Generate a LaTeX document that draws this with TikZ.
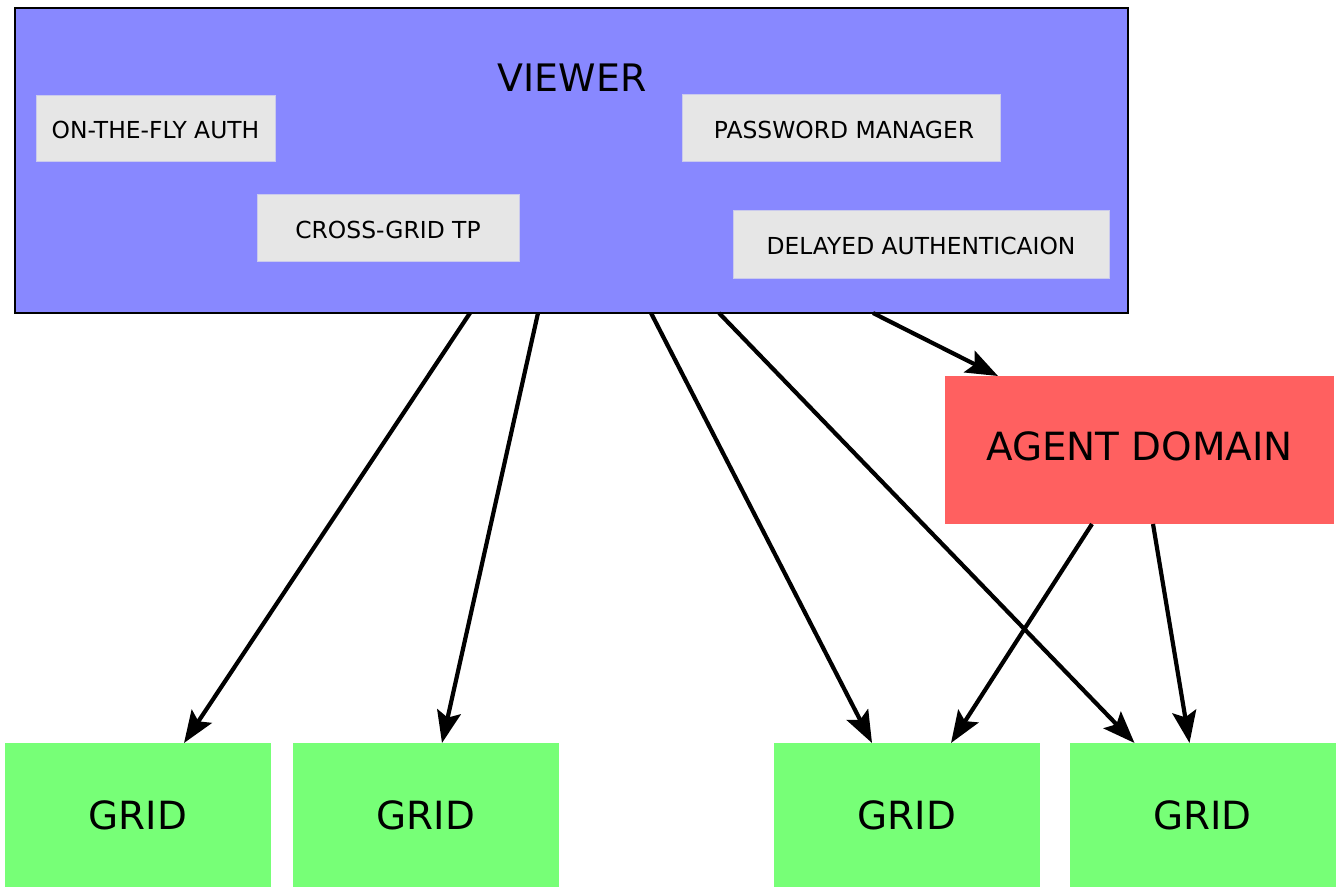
\documentclass[tikz,border=0pt]{standalone}
\usepackage{fontspec}
\setmainfont{DejaVu Sans}
\usetikzlibrary{arrows.meta}

\definecolor{viewerblue}{HTML}{8888FF}
\definecolor{featuregray}{HTML}{E6E6E6}
\definecolor{agentred}{HTML}{FF6060}
\definecolor{gridgreen}{HTML}{77FF77}

\tikzstyle{panel} = [rectangle,draw=black,line width=1.5bp,fill=viewerblue,inner sep=0pt,outer sep=0pt]
\tikzstyle{feature} = [rectangle,draw=featuregray!70!viewerblue,line width=0.8bp,fill=featuregray,inner sep=0pt,outer sep=0pt,font=\fontsize{23.5}{27}\selectfont]
\tikzstyle{agentbox} = [rectangle,fill=agentred,inner sep=0pt,outer sep=0pt,minimum width=389bp,minimum height=148bp,font=\fontsize{39}{45}\selectfont]
\tikzstyle{gridbox} = [rectangle,fill=gridgreen,inner sep=0pt,outer sep=0pt,minimum width=266bp,minimum height=144bp,font=\fontsize{39}{45}\selectfont]
\tikzstyle{link} = [-{Stealth[length=32bp,width=24bp,inset=6bp]},line width=4.2bp,black]

\begin{document}
\begin{tikzpicture}[x=1bp,y=-1bp]
	\useasboundingbox (0,0) rectangle (1336,888);
	% viewer with its features
	\node[panel,minimum width=1113bp,minimum height=305bp] (viewer) at (571.5,160.5) {};
	\node[font=\fontsize{38}{44}\selectfont] (viewertitle) at (572,78) {VIEWER};
	\node[feature,minimum width=239bp,minimum height=66bp] (fly) at (155.5,128) {\raisebox{-2bp}[\height][\depth]{ON-THE-FLY AUTH}};
	\node[feature,minimum width=318bp,minimum height=67bp] (pwd) at (841,127.5) {\raisebox{-2bp}[\height][\depth]{\hspace{6bp}PASSWORD MANAGER}};
	\node[feature,minimum width=262bp,minimum height=67bp] (tp) at (388,227.5) {\raisebox{-2bp}[\height][\depth]{CROSS-GRID TP}};
	\node[feature,minimum width=376bp,minimum height=68bp] (delayed) at (921,244) {\raisebox{-2bp}[\height][\depth]{DELAYED AUTHENTICAION}};
	% agent domain and grids
	\node[agentbox] (agent) at (1139.5,450) {\raisebox{4bp}[\height][\depth]{AGENT DOMAIN}};
	\node[gridbox] (grid1) at (138,815) {GRID};
	\node[gridbox] (grid2) at (426,815) {GRID};
	\node[gridbox] (grid3) at (907,815) {GRID};
	\node[gridbox] (grid4) at (1202.5,815) {GRID};
	% connections
	\draw[link] ([xshift=455bp]viewer.south west) -- ([xshift=179bp]grid1.north west);
	\draw[link] ([xshift=523bp]viewer.south west) -- ([xshift=149bp]grid2.north west);
	\draw[link] ([xshift=636bp]viewer.south west) -- ([xshift=98bp]grid3.north west);
	\draw[link] ([xshift=704bp]viewer.south west) -- ([xshift=65bp]grid4.north west);
	\draw[link] ([xshift=858bp]viewer.south west) -- ([xshift=53bp]agent.north west);
	\draw[link] ([xshift=147bp]agent.south west) -- ([xshift=177bp]grid3.north west);
	\draw[link] ([xshift=208bp]agent.south west) -- ([xshift=120bp]grid4.north west);
\end{tikzpicture}
\end{document}
